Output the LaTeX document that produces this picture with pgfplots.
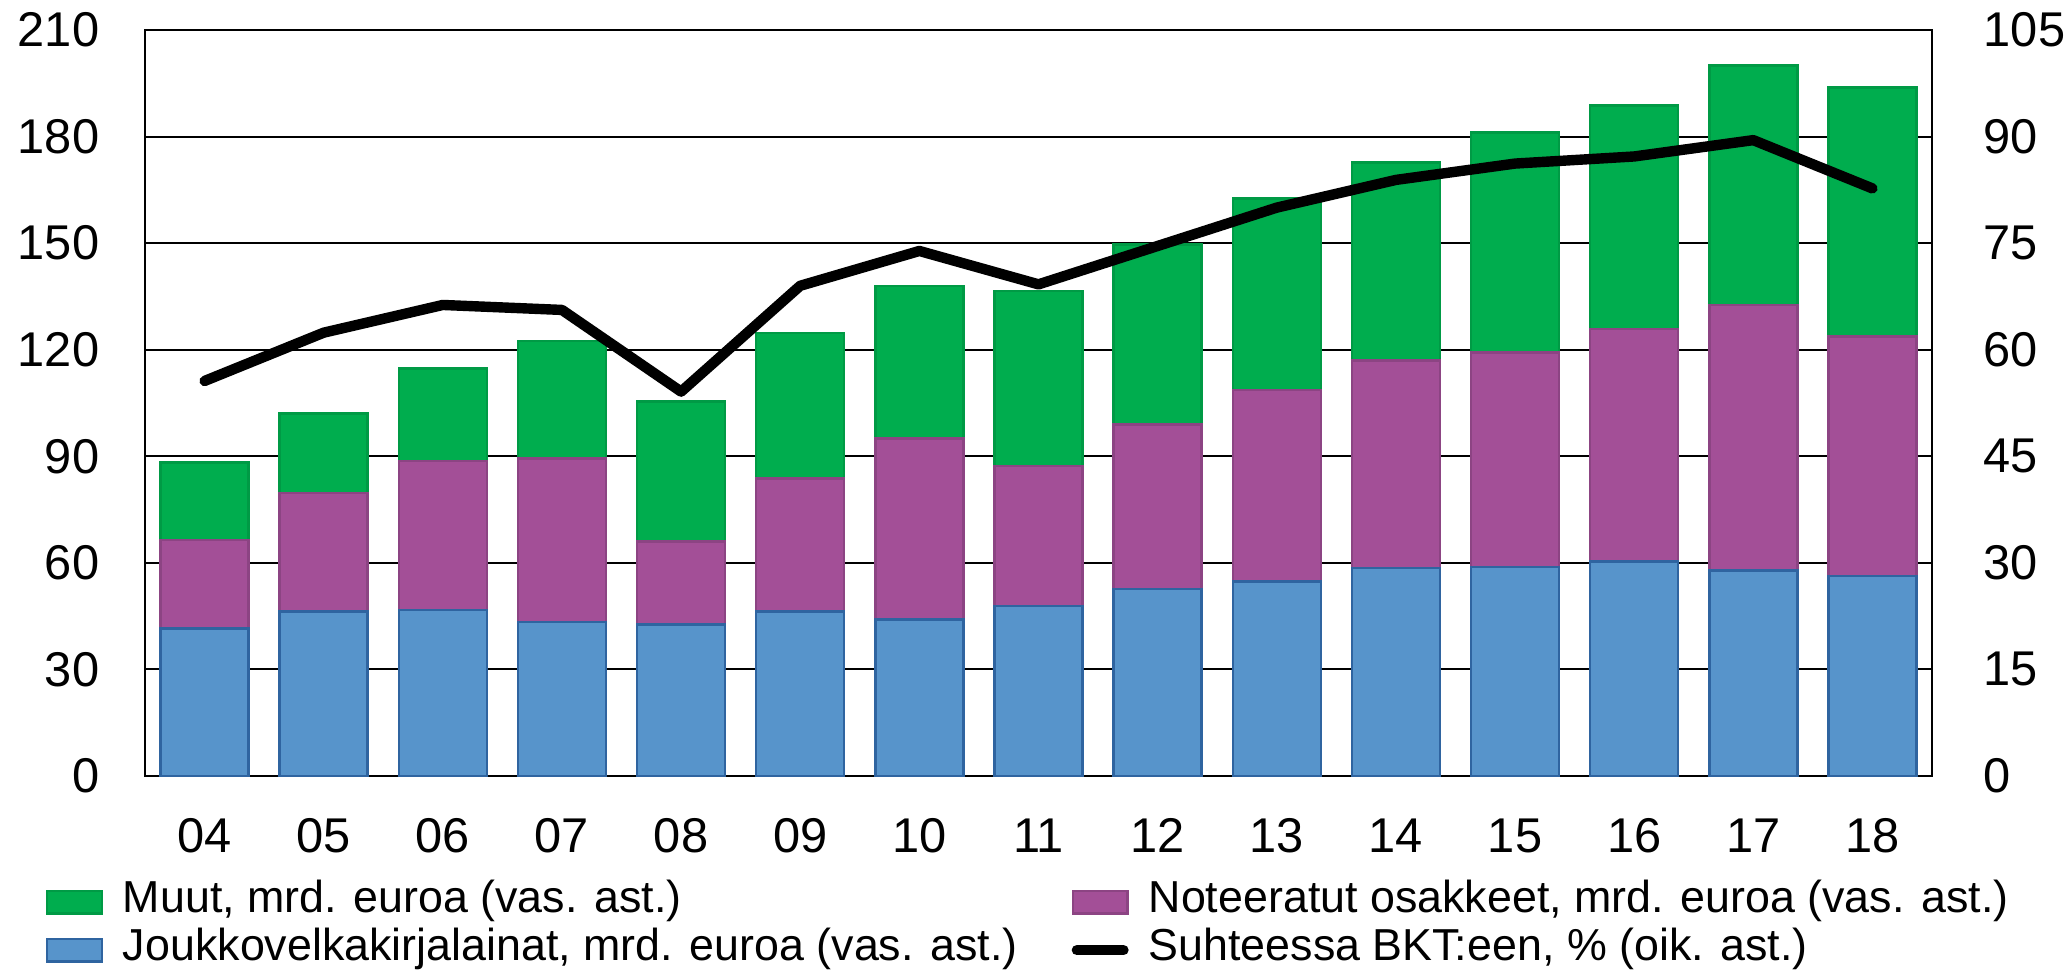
\documentclass[border=0pt]{standalone}
\usepackage{fontspec}
\setmainfont{Liberation Sans}
\usepackage{pgfplots}
\usepackage{pgfplotstable}
\pgfplotsset{compat=1.18}

\definecolor{cGreen}{HTML}{00AD4E}
\definecolor{cGreenD}{HTML}{009A45}
\definecolor{cPurple}{HTML}{A34F97}
\definecolor{cPurpleD}{HTML}{8C4483}
\definecolor{cBlue}{HTML}{5794CB}
\definecolor{cBlueD}{HTML}{2F64A0}

% bars in bn EUR (left axis), line in % of GDP (right axis)
\pgfplotstableread{
x  blue purple green gdp
0  41.5 24.9 21.9 55.6
1  46.3 33.4 22.3 62.4
2  46.7 42.0 26.0 66.3
3  43.3 46.1 33.1 65.6
4  42.6 23.4 39.4 54.1
5  46.3 37.5 40.9 69.0
6  44.0 51.0 43.0 73.9
7  47.8 39.4 49.4 69.2
8  52.6 46.4 50.6 74.6
9  54.8 53.9 53.9 80.0
10 58.5 58.5 55.7 83.9
11 58.9 60.3 61.9 86.2
12 60.4 65.4 63.0 87.2
13 57.8 74.8 67.4 89.5
14 56.3 67.4 70.1 82.7
}\data

\pgfplotsset{
  legbar/.style={legend image code/.code={\draw[##1,line width=0.6pt] (0.3pt,-2.8pt) rectangle (13.95pt,2.8pt);}},
  legline/.style={legend image code/.code={\draw[##1] (1.3pt,0pt) -- (12.95pt,0pt);}},
  base/.style={
    scale only axis, width=446.75pt, height=186.5pt,
    at={(0,0)}, anchor=south west,
    xmin=-0.5, xmax=14.5,
    major tick length=0pt,
    tick label style={font=\fontsize{12.2}{14}\selectfont},
    /pgf/number format/assume math mode=true,
    axis line style={line width=0.6pt},
  },
}

\begin{document}
\begin{tikzpicture}
\path[use as bounding box] (-36.25pt,-50pt) rectangle (481.5pt,194pt);
\begin{axis}[
  base,
  ybar stacked, bar width=22pt,
  ymin=0, ymax=210, ytick={0,30,...,210},
  xtick={0,...,14},
  xticklabels={04,05,06,07,08,09,10,11,12,13,14,15,16,17,18},
  xticklabel style={anchor=north, inner sep=0pt, yshift=-10.5pt},
  yticklabel style={anchor=east, inner sep=0pt, xshift=-11.25pt},
  ymajorgrids, grid style={black, line width=0.5pt},
  legend columns=2, legend cell align=left,
  legend style={draw=none, fill=none, inner sep=0pt, outer sep=0pt,
    at={(-0.0554,-0.1440)}, anchor=north west,
    font=\fontsize{11.2}{13}\selectfont,
    nodes={inner sep=0pt, text height=0.73em, text depth=0.21em},
    row sep=2.6pt,
    /tikz/every odd column/.append style={column sep=5pt},
    /tikz/every even column/.append style={column sep=13.5pt}},
]
\addlegendimage{legbar, fill=cGreen, draw=cGreenD}
\addlegendentry{Muut, mrd. euroa (vas. ast.)}
\addlegendimage{legbar, fill=cPurple, draw=cPurpleD}
\addlegendentry{Noteeratut osakkeet, mrd. euroa (vas. ast.)}
\addlegendimage{legbar, fill=cBlue, draw=cBlueD}
\addlegendentry{Joukkovelkakirjalainat, mrd. euroa (vas. ast.)}
\addlegendimage{legline, black, line width=2.6pt, line cap=round}
\addlegendentry{Suhteessa BKT:een, \% (oik. ast.)}

\addplot[fill=cBlue, draw=cBlueD, line width=0.6pt] table[x=x, y=blue] {\data};
\addplot[fill=cPurple, draw=cPurpleD, line width=0.6pt] table[x=x, y=purple] {\data};
\addplot[fill=cGreen, draw=cGreenD, line width=0.6pt] table[x=x, y=green] {\data};
\end{axis}

\begin{axis}[
  base,
  axis x line=none, axis y line*=right,
  ymin=0, ymax=105, ytick={0,15,...,105},
  yticklabel style={anchor=west, inner sep=0pt, xshift=12.75pt},
]
\addplot[black, line width=2.6pt, line join=round, line cap=round] table[x=x, y=gdp] {\data};
\end{axis}
\end{tikzpicture}
\end{document}
